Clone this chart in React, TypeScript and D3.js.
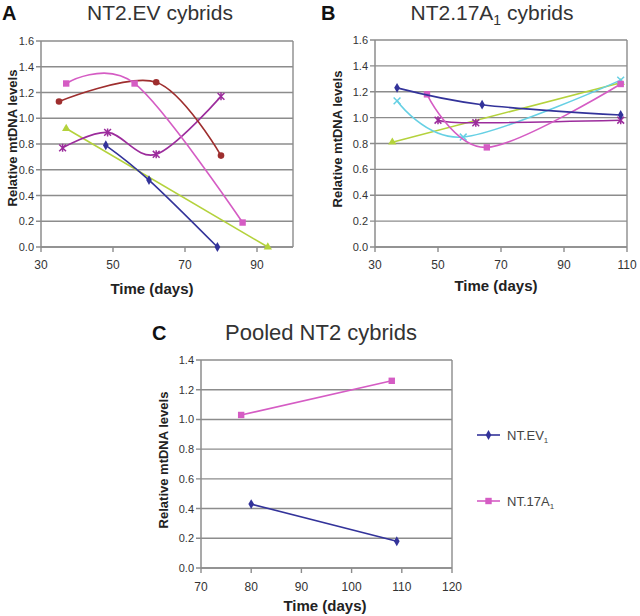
import React from "react";
import * as d3 from "d3";

const W = 640;
const H = 616;

// ---------- Panel A: NT2.EV cybrids ----------
const aXTicks = [30, 50, 70, 90];
const aYTicks = [0, 0.2, 0.4, 0.6, 0.8, 1.0, 1.2, 1.4, 1.6];
const aBlueDays = [48, 60, 79];
const aBlueLevels = [0.79, 0.52, 0.0];
const aPinkDays = [37, 56, 86];
const aPinkLevels = [1.27, 1.27, 0.19];
const aGreenDays = [37, 93];
const aGreenLevels = [0.92, 0.0];
const aPurpleDays = [36, 48.5, 62, 80];
const aPurpleLevels = [0.77, 0.89, 0.72, 1.17];
const aRedDays = [35, 62, 80];
const aRedLevels = [1.13, 1.28, 0.71];

// ---------- Panel B: NT2.17A1 cybrids ----------
const bXTicks = [30, 50, 70, 90, 110];
const bYTicks = [0, 0.2, 0.4, 0.6, 0.8, 1.0, 1.2, 1.4, 1.6];
const bBlueDays = [37, 64, 108];
const bBlueLevels = [1.23, 1.1, 1.02];
const bPinkDays = [46.5, 65.5, 108];
const bPinkLevels = [1.18, 0.77, 1.26];
const bCyanDays = [37, 58, 108];
const bCyanLevels = [1.13, 0.85, 1.29];
const bPurpleDays = [50, 62, 108];
const bPurpleLevels = [0.98, 0.96, 0.98];
const bGreenDays = [35.5, 108];
const bGreenLevels = [0.81, 1.27];

// ---------- Panel C: Pooled NT2 cybrids ----------
const cXTicks = [70, 80, 90, 100, 110, 120];
const cYTicks = [0, 0.2, 0.4, 0.6, 0.8, 1.0, 1.2, 1.4];
const cEvDays = [80, 109];
const cEvLevels = [0.43, 0.18];
const c17Days = [78, 108];
const c17Levels = [1.03, 1.26];
const cLegendNames = ["NT.EV", "NT.17A"];
const cLegendSubs = ["1", "1"];

// ---------- styles ----------
const COL = {
  blue: "#33339a",
  pink: "#d55cc4",
  green: "#b4d23c",
  purple: "#9c2c9c",
  red: "#9e2e2e",
  cyan: "#66d0e4",
};
const GRID = "#8c8c8c";
const TXT = "#333";
const FONT = "'Liberation Sans', Arial, sans-serif";

type Marker = "diamond" | "square" | "triangle" | "star" | "circle" | "x";
interface Series {
  xs: number[];
  ys: number[];
  color: string;
  marker: Marker;
  smooth: boolean;
}

function zip(xs: number[], ys: number[]): [number, number][] {
  return xs.map((x, i) => [x, ys[i]]);
}

function MarkerShape({ type, x, y, color }: { type: Marker; x: number; y: number; color: string }) {
  if (type === "diamond") {
    return <path d={d3.symbol(d3.symbolDiamond, 28)() as string} transform={`translate(${x},${y})`} fill={color} />;
  }
  if (type === "square") {
    return <rect x={x - 3.2} y={y - 3.2} width={6.4} height={6.4} fill={color} />;
  }
  if (type === "triangle") {
    return <path d={d3.symbol(d3.symbolTriangle, 30)() as string} transform={`translate(${x},${y})`} fill={color} />;
  }
  if (type === "circle") {
    return <circle cx={x} cy={y} r={3.3} fill={color} />;
  }
  const s = 3.4;
  if (type === "star") {
    return (
      <path
        d={`M${x - s},${y - s}L${x + s},${y + s}M${x - s},${y + s}L${x + s},${y - s}M${x},${y - s - 0.6}L${x},${y + s + 0.6}`}
        stroke={color}
        strokeWidth={1.5}
        fill="none"
      />
    );
  }
  return (
    <path
      d={`M${x - s},${y - s}L${x + s},${y + s}M${x - s},${y + s}L${x + s},${y - s}`}
      stroke={color}
      strokeWidth={1.5}
      fill="none"
    />
  );
}

interface PanelProps {
  left: number;
  right: number;
  top: number;
  bottom: number;
  xDomain: [number, number];
  yDomain: [number, number];
  xTicks: number[];
  yTicks: number[];
  series: Series[];
  yTitleX: number;
  yTitleY: number;
  xTitleX: number;
  xTitleY: number;
  xLabelOffset: number;
}

function Panel(p: PanelProps) {
  const x = d3.scaleLinear().domain(p.xDomain).range([p.left, p.right]);
  const y = d3.scaleLinear().domain(p.yDomain).range([p.bottom, p.top]);
  const fmt = d3.format(".1f");
  return (
    <g>
      {p.yTicks.map((t) => (
        <line key={"g" + t} x1={p.left - 5} x2={p.right} y1={y(t)} y2={y(t)} stroke={GRID} strokeWidth={1.4} />
      ))}
      <line x1={p.right} x2={p.right} y1={p.top} y2={p.bottom} stroke={GRID} strokeWidth={1.4} />
      <line x1={p.left} x2={p.left} y1={p.top} y2={p.bottom} stroke={GRID} strokeWidth={1.5} />
      <line x1={p.left} x2={p.right} y1={p.bottom} y2={p.bottom} stroke={GRID} strokeWidth={1.5} />
      {p.xTicks.map((t) => (
        <line key={"xt" + t} x1={x(t)} x2={x(t)} y1={p.bottom} y2={p.bottom + 5} stroke={GRID} strokeWidth={1.4} />
      ))}
      {p.yTicks.map((t) => (
        <text
          key={"yl" + t}
          x={p.left - 7}
          y={y(t)}
          textAnchor="end"
          dominantBaseline="central"
          fontSize={11}
          fill={TXT}
          fontFamily={FONT}
        >
          {fmt(t)}
        </text>
      ))}
      {p.xTicks.map((t) => (
        <text
          key={"xl" + t}
          x={x(t)}
          y={p.bottom + p.xLabelOffset}
          textAnchor="middle"
          fontSize={12}
          fill={TXT}
          fontFamily={FONT}
        >
          {t}
        </text>
      ))}
      {p.series.map((s, i) => {
        const line = d3
          .line<[number, number]>()
          .x((d) => x(d[0]))
          .y((d) => y(d[1]))
          .curve(s.smooth ? d3.curveCardinal.tension(0) : d3.curveLinear);
        const pts = zip(s.xs, s.ys);
        return (
          <g key={"s" + i}>
            <path d={line(pts) as string} fill="none" stroke={s.color} strokeWidth={1.6} />
            {pts.map((d, j) => (
              <MarkerShape key={j} type={s.marker} x={x(d[0])} y={y(d[1])} color={s.color} />
            ))}
          </g>
        );
      })}
      <text
        transform={`translate(${p.yTitleX},${p.yTitleY}) rotate(-90)`}
        textAnchor="middle"
        dominantBaseline="central"
        fontSize={13}
        fontWeight="bold"
        fill="#222"
        fontFamily={FONT}
      >
        Relative mtDNA levels
      </text>
      <text
        x={p.xTitleX}
        y={p.xTitleY}
        textAnchor="middle"
        fontSize={15}
        fontWeight="bold"
        fill="#222"
        fontFamily={FONT}
      >
        Time (days)
      </text>
    </g>
  );
}

export default function App() {
  const seriesA: Series[] = [
    { xs: aGreenDays, ys: aGreenLevels, color: COL.green, marker: "triangle", smooth: true },
    { xs: aBlueDays, ys: aBlueLevels, color: COL.blue, marker: "diamond", smooth: true },
    { xs: aPurpleDays, ys: aPurpleLevels, color: COL.purple, marker: "star", smooth: true },
    { xs: aRedDays, ys: aRedLevels, color: COL.red, marker: "circle", smooth: true },
    { xs: aPinkDays, ys: aPinkLevels, color: COL.pink, marker: "square", smooth: true },
  ];
  const seriesB: Series[] = [
    { xs: bGreenDays, ys: bGreenLevels, color: COL.green, marker: "triangle", smooth: true },
    { xs: bCyanDays, ys: bCyanLevels, color: COL.cyan, marker: "x", smooth: true },
    { xs: bPurpleDays, ys: bPurpleLevels, color: COL.purple, marker: "star", smooth: true },
    { xs: bPinkDays, ys: bPinkLevels, color: COL.pink, marker: "square", smooth: true },
    { xs: bBlueDays, ys: bBlueLevels, color: COL.blue, marker: "diamond", smooth: true },
  ];
  const seriesC: Series[] = [
    { xs: cEvDays, ys: cEvLevels, color: COL.blue, marker: "diamond", smooth: false },
    { xs: c17Days, ys: c17Levels, color: COL.pink, marker: "square", smooth: false },
  ];
  const legendColors = [COL.blue, COL.pink];
  const legendMarkers: Marker[] = ["diamond", "square"];
  const legendY = d3.scalePoint<number>().domain([0, 1]).range([435, 501]);

  return (
    <svg
      width={W}
      height={H}
      style={{ position: "absolute", left: 0, top: 0, background: "#fff" }}
      fontFamily={FONT}
    >
      <rect width={W} height={H} fill="#fff" />

      <text x={2} y={20} fontSize={20} fontWeight="bold" fill="#111">A</text>
      <text x={160} y={20} textAnchor="middle" fontSize={21} fill={TXT}>NT2.EV cybrids</text>
      <text x={321} y={20} fontSize={20} fontWeight="bold" fill="#111">B</text>
      <text x={492} y={20} textAnchor="middle" fontSize={21} fill={TXT}>
        NT2.17A<tspan fontSize={14} dy={5}>1</tspan>
        <tspan dy={-5}> cybrids</tspan>
      </text>
      <text x={152} y={340} fontSize={20} fontWeight="bold" fill="#111">C</text>
      <text x={321} y={340} textAnchor="middle" fontSize={22} fill={TXT}>Pooled NT2 cybrids</text>

      <Panel
        left={41}
        right={293}
        top={41}
        bottom={247}
        xDomain={[30, 100]}
        yDomain={[0, 1.6]}
        xTicks={aXTicks}
        yTicks={aYTicks}
        series={seriesA}
        yTitleX={12}
        yTitleY={138}
        xTitleX={152}
        xTitleY={294}
        xLabelOffset={22}
      />
      <Panel
        left={375}
        right={627}
        top={40}
        bottom={247}
        xDomain={[30, 110]}
        yDomain={[0, 1.6]}
        xTicks={bXTicks}
        yTicks={bYTicks}
        series={seriesB}
        yTitleX={337}
        yTitleY={139}
        xTitleX={496}
        xTitleY={291}
        xLabelOffset={22}
      />
      <Panel
        left={201}
        right={452}
        top={360}
        bottom={568}
        xDomain={[70, 120]}
        yDomain={[0, 1.4]}
        xTicks={cXTicks}
        yTicks={cYTicks}
        series={seriesC}
        yTitleX={163}
        yTitleY={460}
        xTitleX={325}
        xTitleY={611}
        xLabelOffset={23}
      />

      {cLegendNames.map((name, i) => (
        <g key={name}>
          <line x1={477} x2={500} y1={legendY(i)} y2={legendY(i)} stroke={legendColors[i]} strokeWidth={1.6} />
          <MarkerShape type={legendMarkers[i]} x={488.5} y={legendY(i) as number} color={legendColors[i]} />
          <text x={507} y={(legendY(i) as number) + 4.5} fontSize={13} fill="#444">
            {name}
            <tspan fontSize={8} dy={3}>{cLegendSubs[i]}</tspan>
          </text>
        </g>
      ))}
    </svg>
  );
}
